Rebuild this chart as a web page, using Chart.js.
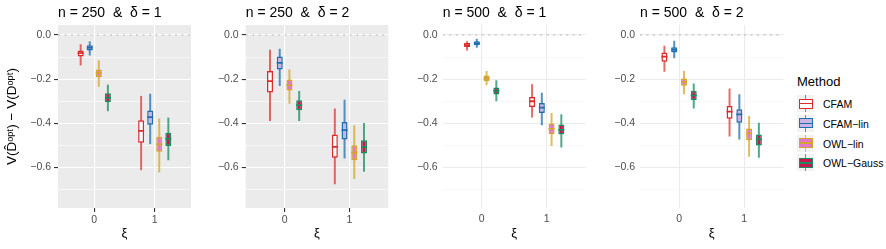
<!DOCTYPE html>
<html>
<head>
<meta charset="utf-8">
<script src="https://cdn.jsdelivr.net/npm/chart.js@4.4.1/dist/chart.umd.min.js"></script>
<style>
  body { margin: 0; background: #fff; font-family: "Liberation Sans", Arial, sans-serif; }
  #wrap { position: relative; width: 886px; height: 249px; overflow: hidden; }
  .panel { position: absolute; top: 0; }
  #legend { position: absolute; left: 797px; top: 72px; }
  #legend .ttl { font-size: 13px; color: #000; height: 22px; line-height: 20px; }
  #legend .row { position: relative; height: 19.8px; }
  #legend .key { position: absolute; left: 0; top: 1px; width: 17px; height: 17px; background: #F2F2F2; }
  #legend .wh { position: absolute; left: 7.75px; top: 0; width: 1.5px; height: 17px; }
  #legend .bx { position: absolute; left: 1.5px; top: 3.5px; width: 14px; height: 10px; box-sizing: border-box; border: 1.5px solid; }
  #legend .md { position: absolute; left: 1.5px; top: 7.75px; width: 14px; height: 1.5px; }
  #legend .lab { position: absolute; left: 26px; top: 0; line-height: 20px; font-size: 10.5px; color: #000; }
</style>
</head>
<body>
<div id="wrap">
  <div class="panel" style="left:0px"><canvas id="c1" width="200" height="249"></canvas></div>
  <div class="panel" style="left:200px"><canvas id="c2" width="200" height="249"></canvas></div>
  <div class="panel" style="left:400px"><canvas id="c3" width="200" height="249"></canvas></div>
  <div class="panel" style="left:600px"><canvas id="c4" width="190" height="249"></canvas></div>
  <div id="legend"></div>
</div>
<script>
const methods = ['CFAM', 'CFAM−lin', 'OWL−lin', 'OWL−Gauss'];
const xiLabels = ['0', '1'];
const xiPos = [1, 2];
const yTicks = [-0.7, -0.6, -0.5, -0.4, -0.3, -0.2, -0.1, 0];
const yLabelled = [-0.6, -0.4, -0.2, 0];
const panelTitles = ['n = 250  &  δ = 1', 'n = 250  &  δ = 2', 'n = 500  &  δ = 1', 'n = 500  &  δ = 2'];

// each row: [lower whisker, Q1, median, Q3, upper whisker], first xi = 0 then xi = 1
const n250d1_CFAM = [[-0.138, -0.097, -0.082, -0.070, -0.042], [-0.612, -0.488, -0.434, -0.386, -0.276]];
const n250d1_CFAMlin = [[-0.093, -0.070, -0.058, -0.047, -0.029], [-0.494, -0.406, -0.372, -0.342, -0.266]];
const n250d1_OWLlin = [[-0.235, -0.190, -0.172, -0.156, -0.115], [-0.622, -0.528, -0.495, -0.461, -0.378]];
const n250d1_OWLgauss = [[-0.345, -0.305, -0.284, -0.264, -0.225], [-0.567, -0.502, -0.470, -0.442, -0.374]];

const n250d2_CFAM = [[-0.389, -0.260, -0.209, -0.163, -0.067], [-0.676, -0.556, -0.506, -0.450, -0.333]];
const n250d2_CFAMlin = [[-0.231, -0.156, -0.126, -0.097, -0.062], [-0.559, -0.473, -0.431, -0.394, -0.293]];
const n250d2_OWLlin = [[-0.311, -0.251, -0.227, -0.202, -0.156], [-0.652, -0.567, -0.533, -0.499, -0.409]];
const n250d2_OWLgauss = [[-0.389, -0.341, -0.318, -0.296, -0.254], [-0.619, -0.536, -0.506, -0.476, -0.398]];

const n500d1_CFAM = [[-0.070, -0.055, -0.046, -0.037, -0.028], [-0.374, -0.326, -0.300, -0.281, -0.223]];
const n500d1_CFAMlin = [[-0.058, -0.047, -0.038, -0.029, -0.017], [-0.409, -0.353, -0.329, -0.308, -0.261]];
const n500d1_OWLlin = [[-0.228, -0.209, -0.197, -0.184, -0.163], [-0.503, -0.449, -0.425, -0.401, -0.353]];
const n500d1_OWLgauss = [[-0.300, -0.269, -0.253, -0.238, -0.205], [-0.509, -0.451, -0.430, -0.405, -0.359]];

const n500d2_CFAM = [[-0.167, -0.121, -0.098, -0.079, -0.049], [-0.460, -0.379, -0.347, -0.321, -0.242]];
const n500d2_CFAMlin = [[-0.106, -0.079, -0.067, -0.056, -0.026], [-0.473, -0.397, -0.359, -0.336, -0.268]];
const n500d2_OWLlin = [[-0.268, -0.230, -0.213, -0.197, -0.162], [-0.551, -0.477, -0.445, -0.423, -0.367]];
const n500d2_OWLgauss = [[-0.333, -0.294, -0.273, -0.253, -0.220], [-0.556, -0.500, -0.473, -0.450, -0.397]];

const lineColors = ['#DA2C2C', '#1F6FAE', '#D4A52C', '#1A8C5E'];
const whiskerColors = ['rgba(218,44,44,0.7)', 'rgba(31,111,174,0.75)', 'rgba(212,165,44,0.75)', 'rgba(26,140,94,0.75)'];
const fillColors = ['#FFFFFF', '#C9B4E4', '#E279C7', '#C9164F'];

const isLabelled = v => yLabelled.some(t => Math.abs(t - v) < 1e-6);
const fmt = v => v.toFixed(1).replace('-', '−');
const medHalf = 0.004;

const panelBg = {
    id: 'panelBg',
    beforeDraw(chart, args, opts) {
        const { ctx, chartArea: a } = chart;
        ctx.save();
        ctx.fillStyle = opts.color;
        ctx.fillRect(a.left, a.top, a.right - a.left, a.bottom - a.top);
        ctx.restore();
    }
};

const panels = [
    { id: 'c1', title: panelTitles[0], stats: [n250d1_CFAM, n250d1_CFAMlin, n250d1_OWLlin, n250d1_OWLgauss], yWidth: 58, padRight: 9, gray: true, yTitle: true },
    { id: 'c2', title: panelTitles[1], stats: [n250d2_CFAM, n250d2_CFAMlin, n250d2_OWLlin, n250d2_OWLgauss], yWidth: 45.7, padRight: 11.7, gray: true, yTitle: false },
    { id: 'c3', title: panelTitles[2], stats: [n500d1_CFAM, n500d1_CFAMlin, n500d1_OWLlin, n500d1_OWLgauss], yWidth: 42.7, padRight: 14.3, gray: false, yTitle: false },
    { id: 'c4', title: panelTitles[3], stats: [n500d2_CFAM, n500d2_CFAMlin, n500d2_OWLlin, n500d2_OWLgauss], yWidth: 40, padRight: 6.7, gray: false, yTitle: false }
];

function makePanel(p) {
    const datasets = [];
    p.stats.forEach((rows, i) => {
        const stack = methods[i];
        datasets.push({
            type: 'bar', stack, order: 3,
            data: rows.map((s, k) => ({ x: xiPos[k], y: [s[0], s[4]] })),
            backgroundColor: whiskerColors[i], borderWidth: 0, maxBarThickness: 2
        });
        datasets.push({
            type: 'bar', stack, order: 2,
            data: rows.map((s, k) => ({ x: xiPos[k], y: [s[1], s[3]] })),
            backgroundColor: fillColors[i], borderColor: lineColors[i], borderWidth: 1.5,
            borderSkipped: false, maxBarThickness: 6
        });
        datasets.push({
            type: 'bar', stack, order: 1,
            data: rows.map((s, k) => ({ x: xiPos[k], y: [s[2] - medHalf, s[2] + medHalf] })),
            backgroundColor: lineColors[i], borderWidth: 0, maxBarThickness: 6
        });
    });
    // dotted reference line at zero
    datasets.push({
        type: 'line', order: 4,
        data: [{ x: 0.4, y: 0 }, { x: 2.6, y: 0 }],
        borderColor: '#B5B5B5', borderWidth: 1.1, borderDash: [2, 4.5], pointRadius: 0
    });

    const majorCol = p.gray ? '#FFFFFF' : '#EBEBEB';
    const minorCol = p.gray ? '#FFFFFF' : '#F3F3F3';
    const tickFont = { family: '"Liberation Sans", Arial, sans-serif', size: 10.5 };

    new Chart(document.getElementById(p.id), {
        type: 'bar',
        data: { datasets },
        plugins: [panelBg],
        options: {
            responsive: false,
            animation: false,
            events: [],
            layout: { padding: { left: 0, right: p.padRight, top: 0, bottom: 0 } },
            datasets: { bar: { categoryPercentage: 0.6, barPercentage: 1, grouped: true } },
            plugins: {
                legend: { display: false },
                tooltip: { enabled: false },
                panelBg: { color: p.gray ? '#EBEBEB' : '#FFFFFF' },
                title: {
                    display: true, text: p.title, align: 'start', fullSize: false,
                    color: '#000', font: { family: '"Liberation Sans", Arial, sans-serif', size: 14, weight: 'normal' },
                    padding: { top: 5, bottom: 3.2 }
                }
            },
            scales: {
                x: {
                    type: 'linear', min: 0.4, max: 2.6, offset: false,
                    afterBuildTicks: s => { s.ticks = xiPos.map(v => ({ value: v })); },
                    afterFit: s => { s.height = 41; },
                    ticks: {
                        callback: (v, idx) => xiLabels[idx], color: '#4D4D4D', font: tickFont,
                        padding: p.gray ? 2 : 5, autoSkip: false, maxRotation: 0
                    },
                    grid: {
                        offset: false, color: majorCol, lineWidth: 1.1,
                        drawTicks: p.gray, tickLength: 4, tickColor: '#333333', tickWidth: 1.1
                    },
                    border: { display: false },
                    title: {
                        display: true, text: 'ξ', color: '#000',
                        font: { family: '"Liberation Sans", Arial, sans-serif', size: 13 },
                        padding: { top: 0, bottom: 8 }
                    }
                },
                y: {
                    type: 'linear', min: -0.783, max: 0.045, stacked: false,
                    afterBuildTicks: s => { s.ticks = yTicks.map(v => ({ value: v })); },
                    afterFit: s => { s.width = p.yWidth; },
                    ticks: {
                        callback: v => isLabelled(v) ? fmt(v) : '',
                        color: '#4D4D4D', font: tickFont, padding: p.gray ? 3 : 5
                    },
                    grid: {
                        color: c => (c.tick && isLabelled(c.tick.value)) ? majorCol : minorCol,
                        lineWidth: c => (c.tick && isLabelled(c.tick.value)) ? 1.1 : 0.55,
                        drawTicks: p.gray, tickLength: 4, tickWidth: 1.1,
                        tickColor: c => (c.tick && isLabelled(c.tick.value)) ? '#333333' : 'rgba(0,0,0,0)'
                    },
                    border: { display: false },
                    title: {
                        display: p.yTitle, text: 'V(D̂ᵒᵖᵗ) − V(Dᵒᵖᵗ)', color: '#000',
                        font: { family: '"Liberation Sans", Arial, sans-serif', size: 13.5 },
                        padding: { top: 4, bottom: 0 }
                    }
                }
            }
        }
    });
}

panels.forEach(makePanel);

// legend built from the same method/colour arrays
const legend = document.getElementById('legend');
let html = '<div class="ttl">Method</div>';
methods.forEach((m, i) => {
    html += '<div class="row"><div class="key">' +
        '<div class="wh" style="background:' + whiskerColors[i] + '"></div>' +
        '<div class="bx" style="border-color:' + lineColors[i] + ';background:' + fillColors[i] + '"></div>' +
        '<div class="md" style="background:' + lineColors[i] + '"></div>' +
        '</div><div class="lab">' + m + '</div></div>';
});
legend.innerHTML = html;
</script>
</body>
</html>
